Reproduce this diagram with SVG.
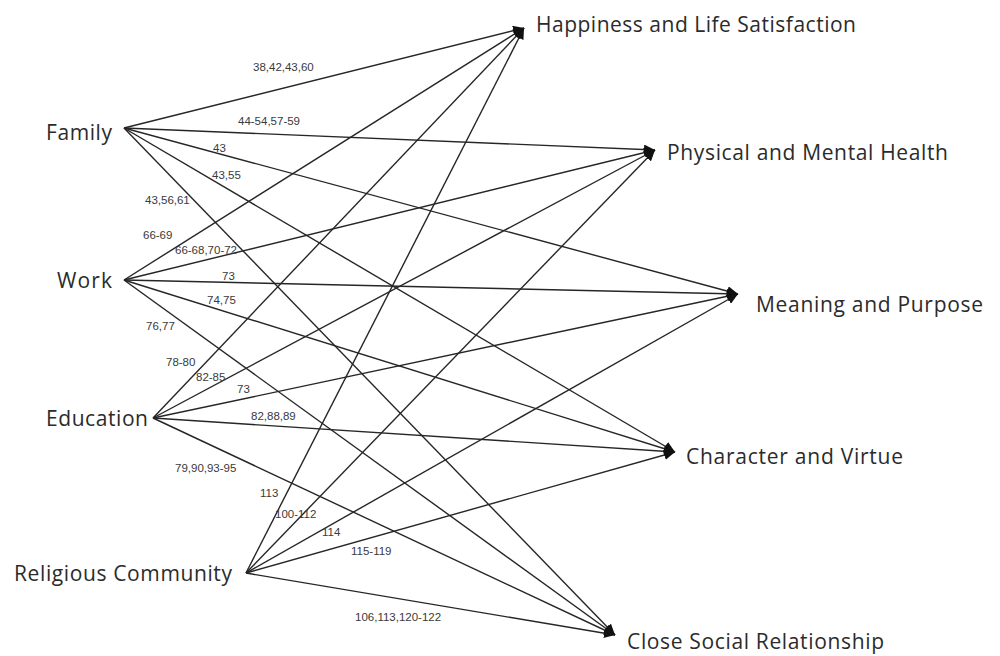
<svg xmlns="http://www.w3.org/2000/svg" width="1000" height="656" viewBox="0 0 1000 656">
<defs>
<style>
.node{font-family:"Open Sans","Liberation Sans",sans-serif;font-size:21px;fill:#2b2b2b}
.lbl{font-family:"Liberation Sans",sans-serif;font-size:11.5px;fill:#3a3a3a}
.ln{stroke:#262626;stroke-width:1.4;fill:none;marker-end:url(#ah)}
</style>
<marker id="ah" markerUnits="userSpaceOnUse" markerWidth="12" markerHeight="10" refX="11" refY="5" orient="auto">
<path d="M0,0 L11,5 L0,10 z" fill="#111"/>
</marker>
</defs>
<rect width="1000" height="656" fill="#fff"/>
<g id="connectors">
<line class="ln" x1="124" y1="128" x2="524" y2="28"/>
<line class="ln" x1="124" y1="128" x2="655" y2="150"/>
<line class="ln" x1="124" y1="128" x2="738" y2="294"/>
<line class="ln" x1="124" y1="128" x2="675" y2="452"/>
<line class="ln" x1="124" y1="128" x2="615" y2="635"/>
<line class="ln" x1="124" y1="280" x2="524" y2="28"/>
<line class="ln" x1="124" y1="280" x2="655" y2="150"/>
<line class="ln" x1="124" y1="280" x2="738" y2="294"/>
<line class="ln" x1="124" y1="280" x2="675" y2="452"/>
<line class="ln" x1="124" y1="280" x2="615" y2="635"/>
<line class="ln" x1="153" y1="418" x2="524" y2="28"/>
<line class="ln" x1="153" y1="418" x2="655" y2="150"/>
<line class="ln" x1="153" y1="418" x2="738" y2="294"/>
<line class="ln" x1="153" y1="418" x2="675" y2="452"/>
<line class="ln" x1="153" y1="418" x2="615" y2="635"/>
<line class="ln" x1="246" y1="573" x2="524" y2="28"/>
<line class="ln" x1="246" y1="573" x2="655" y2="150"/>
<line class="ln" x1="246" y1="573" x2="738" y2="294"/>
<line class="ln" x1="246" y1="573" x2="675" y2="452"/>
<line class="ln" x1="246" y1="573" x2="615" y2="635"/>
</g>
<g id="edge-labels">
<text class="lbl" x="253" y="71">38,42,43,60</text>
<text class="lbl" x="238" y="125">44-54,57-59</text>
<text class="lbl" x="213" y="152">43</text>
<text class="lbl" x="212" y="179">43,55</text>
<text class="lbl" x="145" y="204">43,56,61</text>
<text class="lbl" x="143" y="239">66-69</text>
<text class="lbl" x="175" y="254">66-68,70-72</text>
<text class="lbl" x="222" y="280">73</text>
<text class="lbl" x="207" y="304">74,75</text>
<text class="lbl" x="146" y="330">76,77</text>
<text class="lbl" x="166" y="366">78-80</text>
<text class="lbl" x="196" y="381">82-85</text>
<text class="lbl" x="237" y="393">73</text>
<text class="lbl" x="251" y="420">82,88,89</text>
<text class="lbl" x="175" y="472">79,90,93-95</text>
<text class="lbl" x="260" y="497">113</text>
<text class="lbl" x="275" y="518">100-112</text>
<text class="lbl" x="322" y="536">114</text>
<text class="lbl" x="351" y="555">115-119</text>
<text class="lbl" x="355" y="621">106,113,120-122</text>
</g>
<g id="family"><text class="node" x="46" y="140" textLength="66">Family</text></g>
<g id="work"><text class="node" x="57" y="288" textLength="55">Work</text></g>
<g id="education"><text class="node" x="46" y="426" textLength="102">Education</text></g>
<g id="religious-community"><text class="node" x="14" y="581" textLength="218">Religious Community</text></g>
<g id="happiness"><text class="node" x="536" y="32" textLength="320">Happiness and Life Satisfaction</text></g>
<g id="health"><text class="node" x="667" y="160" textLength="281">Physical and Mental Health</text></g>
<g id="meaning"><text class="node" x="756" y="312" textLength="227">Meaning and Purpose</text></g>
<g id="character"><text class="node" x="686" y="464" textLength="217">Character and Virtue</text></g>
<g id="close-social"><text class="node" x="627" y="649" textLength="257">Close Social Relationship</text></g>
</svg>
